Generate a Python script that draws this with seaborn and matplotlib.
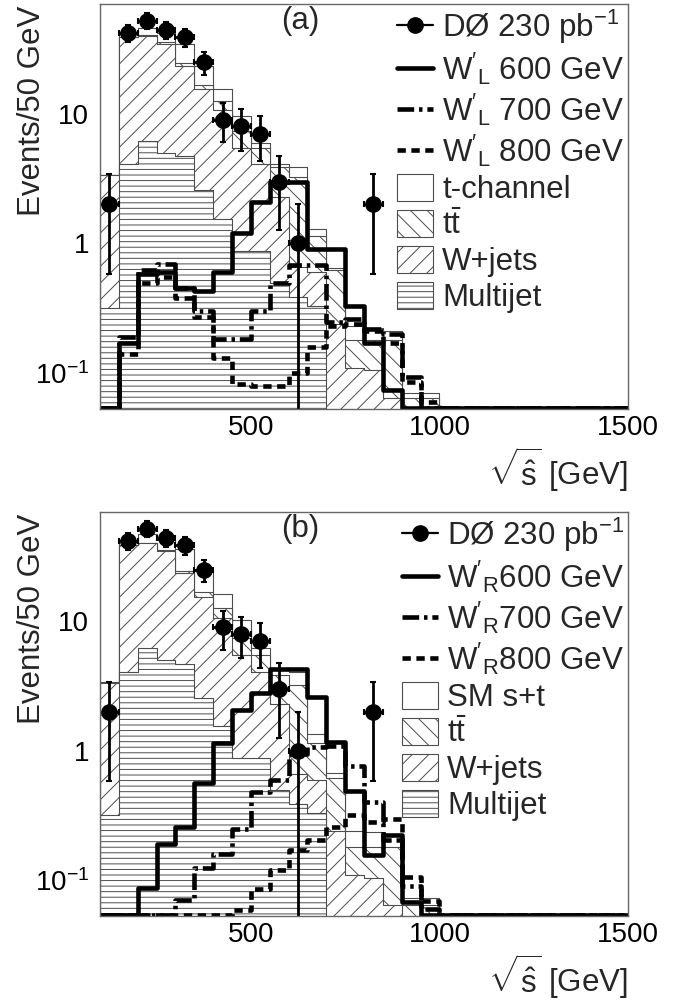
#!/usr/bin/env python3
"""W' search: sqrt(s-hat) distributions with stacked backgrounds, DØ style (two panels)."""

import numpy as np
import pandas as pd
import matplotlib
matplotlib.use("Agg")
import matplotlib.pyplot as plt
import seaborn as sns
from matplotlib.lines import Line2D
from matplotlib.patches import Patch
from matplotlib.ticker import FixedLocator, LogLocator, NullFormatter, FuncFormatter

# 50 GeV bins, 100 GeV .. 1000 GeV
BIN_LO = [100, 150, 200, 250, 300, 350, 400, 450, 500, 550,
          600, 650, 700, 750, 800, 850, 900, 950]

DATA = [2, 42, 52, 44, 39, 25, 9, 8, 7, 3, 1, 0, 0, 0, 2, 0, 0, 0]

MULTIJET = [0.32, 4.1, 6.2, 5.0, 4.7, 2.56, 1.55, 0.88, 0.88, 0.50,
            0.39, 0.33, 0, 0, 0, 0, 0, 0]
WJETS = [3.03, 34.8, 33.8, 29.7, 18.8, 13.0, 9.05, 4.6, 3.2, 1.8,
         0.27, 0.27, 0.24, 0.11, 0.105, 0.065, 0.03, 0.03]
TTBAR = [0.01, 0.3, 0.6, 0.8, 1.0, 1.2, 2.0, 1.9, 1.4, 1.55,
         2.58, 0.55, 0.38, 0.07, 0.075, 0.115, 0.035, 0.035]
TCHANNEL = [0.02, 2.3, 5.4, 6.0, 10.2, 6.7, 3.0, 2.3, 0.5, 0.25,
            0.64, 0.15, 0.03, 0.05, 0.045, 0.03, 0.005, 0.005]
SM_ST = [0.03, 2.8, 6.5, 7.2, 12.0, 8.0, 3.6, 2.8, 0.7, 0.35,
         0.8, 0.2, 0.05, 0.06, 0.055, 0.04, 0.008, 0.008]

WL_600 = [0, 0.17, 0.58, 0.60, 0.45, 0.43, 0.60, 1.2, 2.1, 3.0,
          3.0, 0.91, 0.91, 0.33, 0.17, 0.074, 0, 0]
WL_700 = [0, 0.19, 0.62, 0.70, 0.45, 0.30, 0.185, 0.185, 0.30, 0.50,
          0.68, 0.68, 0.25, 0.26, 0.22, 0.20, 0.093, 0]
WL_800 = [0, 0.14, 0.50, 0.55, 0.38, 0.27, 0.13, 0.083, 0.08, 0.08,
          0.10, 0.16, 0.23, 0.24, 0.21, 0.17, 0.085, 0.06]

WR_600 = [0, 0, 0.088, 0.19, 0.256, 0.56, 1.15, 2.07, 2.78, 4.3,
          4.3, 2.6, 1.18, 0.49, 0.158, 0.225, 0.068, 0]
WR_700 = [0, 0, 0, 0, 0.071, 0.125, 0.16, 0.25, 0.48, 0.60,
          0.95, 1.08, 1.10, 0.76, 0.40, 0.205, 0.09, 0.06]
WR_800 = [0, 0, 0, 0, 0, 0, 0, 0.059, 0.085, 0.12,
          0.17, 0.205, 0.26, 0.32, 0.28, 0.30, 0.107, 0.069]

LEGEND_A = ["DØ 230 pb$^{-1}$",
            r"$\mathrm{W}'_\mathrm{L}$ 600 GeV",
            r"$\mathrm{W}'_\mathrm{L}$ 700 GeV",
            r"$\mathrm{W}'_\mathrm{L}$ 800 GeV",
            "t-channel", r"$\mathrm{t\bar{t}}$", "W+jets", "Multijet"]
LEGEND_B = ["DØ 230 pb$^{-1}$",
            r"$\mathrm{W}'_\mathrm{R}$600 GeV",
            r"$\mathrm{W}'_\mathrm{R}$700 GeV",
            r"$\mathrm{W}'_\mathrm{R}$800 GeV",
            "SM s+t", r"$\mathrm{t\bar{t}}$", "W+jets", "Multijet"]

X_MIN, X_MAX = 100, 1500
Y_MIN, Y_MAX = 0.053, 70
BIN_W = 50
EDGES = np.arange(X_MIN, X_MAX + BIN_W, BIN_W)
CENTERS = EDGES[:-1] + BIN_W / 2

TICK_FONT = 20
TEXT_FONT = 22.5

sns.set_style("white")
plt.rcParams["font.family"] = ["Liberation Sans", "DejaVu Sans"]
plt.rcParams["mathtext.fontset"] = "custom"
plt.rcParams["mathtext.rm"] = "Liberation Sans"
plt.rcParams["mathtext.it"] = "Liberation Sans:italic"
plt.rcParams["mathtext.bf"] = "Liberation Sans:bold"
plt.rcParams["hatch.linewidth"] = 0.7
plt.rcParams["lines.scale_dashes"] = False

HATCH_T = None
HATCH_TT = "\\\\"
HATCH_WJ = "//"
HATCH_MJ = "---"

DASH_700 = (0, (12, 3.5, 2.5, 3.5))
DASH_800 = (0, (6, 4))


def full(vals):
    """Pad the 100-1000 GeV values with empty bins up to 1500 GeV."""
    out = np.zeros(len(CENTERS))
    out[:len(vals)] = vals
    return out


def hist_frame(weights):
    return pd.DataFrame({"x": CENTERS, "w": weights})


def draw_stack(ax, layers):
    """Stacked background: layers given bottom -> top as (values, hatch)."""
    cum = np.cumsum([full(v) for v, _ in layers], axis=0)
    for i in reversed(range(len(layers))):
        n_before = len(ax.collections)
        sns.histplot(data=hist_frame(np.maximum(cum[i], 1e-4)), x="x", weights="w",
                     bins=EDGES.tolist(), element="step", fill=True, alpha=1, ax=ax)
        for coll in ax.collections[n_before:]:
            coll.set_facecolor("white")
            coll.set_edgecolor("0.3")
            coll.set_linewidth(0.8)
            coll.set_alpha(1)
            if layers[i][1]:
                coll.set_hatch(layers[i][1])


def draw_signal(ax, vals, style):
    # empty bins run along the bottom of the frame, as in the original
    n_before = len(ax.lines)
    sns.histplot(data=hist_frame(np.maximum(full(vals), Y_MIN * 1.015)), x="x", weights="w",
                 bins=EDGES.tolist(), element="step", fill=False, color="black",
                 linewidth=3.3, ax=ax)
    for ln in ax.lines[n_before:]:
        ln.set_linestyle(style)
        ln.set_solid_capstyle("butt")
        ln.set_dash_capstyle("butt")
        ln.set_zorder(5)


def draw_data(ax):
    n = full(DATA)
    keep = n > 0
    ax.errorbar(CENTERS[keep], n[keep], yerr=np.sqrt(n[keep]), xerr=BIN_W / 2,
                fmt="o", ms=11, color="black", elinewidth=2.0,
                capsize=2.5, capthick=1.5, zorder=6)


def ytick_fmt(v, pos):
    if np.isclose(v, 0.1):
        return r"$10^{-1}$"
    if np.isclose(v, 1):
        return "1"
    if np.isclose(v, 10):
        return "10"
    return ""


def style_axes(ax, tag):
    ax.set_yscale("log")
    ax.set_xlim(X_MIN, X_MAX)
    ax.set_ylim(Y_MIN, Y_MAX)
    ax.xaxis.set_major_locator(FixedLocator([500, 1000, 1500]))
    ax.xaxis.set_minor_locator(FixedLocator(np.arange(200, 1500, 100)))
    ax.yaxis.set_major_locator(FixedLocator([0.1, 1, 10]))
    ax.yaxis.set_major_formatter(FuncFormatter(ytick_fmt))
    ax.yaxis.set_minor_locator(LogLocator(base=10, subs=np.arange(2, 10)))
    ax.yaxis.set_minor_formatter(NullFormatter())
    ax.tick_params(which="both", direction="in", color="0.35", width=0.8,
                   labelsize=TICK_FONT, top=False, right=False, labelcolor="black")
    ax.tick_params(which="major", length=9)
    ax.tick_params(which="minor", length=5)
    ax.tick_params(axis="y", pad=8)
    ax.tick_params(axis="x", pad=4)
    for sp in ax.spines.values():
        sp.set_color("0.4")
        sp.set_linewidth(1.0)
        sp.set_zorder(10)
    ax.set_ylabel("Events/50 GeV", fontsize=TEXT_FONT, loc="top")
    ax.yaxis.set_label_coords(-0.10, 0.995)
    ax.set_xlabel(r"$\sqrt{\hat{\mathrm{s}}}$ [GeV]", fontsize=TEXT_FONT, loc="right",
                  labelpad=3)
    ax.text(0.38, 0.957, tag, transform=ax.transAxes, fontsize=TEXT_FONT,
            ha="center", va="center")


def add_legend(ax, labels):
    handles = [
        Line2D([0], [0], color="black", marker="o", ms=11, lw=1.6),
        Line2D([0], [0], color="black", lw=3.3),
        Line2D([0], [0], color="black", lw=3.3, linestyle=DASH_700),
        Line2D([0], [0], color="black", lw=3.3, linestyle=DASH_800),
        Patch(facecolor="white", edgecolor="0.3", lw=0.8),
        Patch(facecolor="white", edgecolor="0.3", lw=0.8, hatch=HATCH_TT),
        Patch(facecolor="white", edgecolor="0.3", lw=0.8, hatch=HATCH_WJ),
        Patch(facecolor="white", edgecolor="0.3", lw=0.8, hatch=HATCH_MJ),
    ]
    ax.legend(handles, labels, loc="upper right", bbox_to_anchor=(1.0, 1.0),
              frameon=False, fontsize=TEXT_FONT, handlelength=1.15, handleheight=0.95,
              handletextpad=0.3, labelspacing=0.15, borderaxespad=0.0,
              borderpad=0.12)


def draw_panel(ax, white_layer, sig600, sig700, sig800, labels, tag):
    ax.set_yscale("log")
    draw_stack(ax, [(MULTIJET, HATCH_MJ), (WJETS, HATCH_WJ),
                    (TTBAR, HATCH_TT), (white_layer, HATCH_T)])
    draw_signal(ax, sig800, DASH_800)
    draw_signal(ax, sig700, DASH_700)
    draw_signal(ax, sig600, "-")
    draw_data(ax)
    style_axes(ax, tag)
    add_legend(ax, labels)


fig = plt.figure(figsize=(6.92, 10.01), dpi=100)
ax_a = fig.add_axes([0.1445, 0.5914, 0.763, 0.4046])
ax_b = fig.add_axes([0.1445, 0.0849, 0.763, 0.4036])

draw_panel(ax_a, TCHANNEL, WL_600, WL_700, WL_800, LEGEND_A, "(a)")
draw_panel(ax_b, SM_ST, WR_600, WR_700, WR_800, LEGEND_B, "(b)")

fig.savefig("out.png", dpi=100, facecolor="white")
